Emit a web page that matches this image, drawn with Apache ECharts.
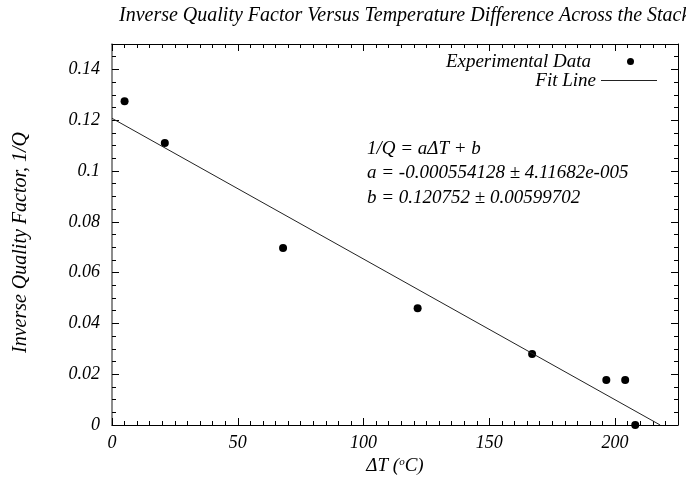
<!DOCTYPE html>
<html>
<head>
<meta charset="utf-8">
<script src="https://cdn.jsdelivr.net/npm/echarts@6/dist/echarts.min.js"></script>
<style>html,body{margin:0;padding:0;background:#fff}#c{width:686px;height:490px}</style>
</head>
<body>
<div id="c"></div>
<script>
// Data
const deltaT = [5, 21, 68, 121.5, 167, 196.5, 204, 208];
const invQ   = [0.1275, 0.111, 0.0697, 0.046, 0.028, 0.0177, 0.0177, 0];
// Fit coefficients (as printed on the chart)
const fitA = -0.000554128;
const fitB = 0.120752;
const annotationLines = [
  '1/Q = a\u0394T + b',
  'a = -0.000554128 \u00B1 4.11682e-005',
  'b = 0.120752 \u00B1 0.00599702'
];
// Axis ranges and tick labels
const xMin = 0, xMax = 225;
const xTickLabels = [0, 50, 100, 150, 200];
const xMinorSplits = 45;   // minor tick every 5
const yMin = 0, yMax = 0.15;
const yTickLabels = [0, 0.02, 0.04, 0.06, 0.08, 0.1, 0.12, 0.14];
const yMinorSplits = 30;   // minor tick every 0.005

const FONT = 'Liberation Serif';
const scatterData = deltaT.map((x, i) => [x, invQ[i]]);
const fitData = [[0, fitB], [-fitB / fitA, 0]];

const chart = echarts.init(document.getElementById('c'));
const tickStyle = {color: '#000', width: 1};
const labelFont = {fontFamily: FONT, fontStyle: 'italic', fontSize: 18, color: '#000'};

function xAx(pos, withLabels, extra) {
  return Object.assign({
    type: 'value', position: pos, min: xMin, max: xMax, interval: xMax - xMin,
    axisLine: {show: true, onZero: false, lineStyle: {color: '#000', width: 1}}, splitLine: {show: false},
    axisTick: {show: true, inside: true, length: 7, lineStyle: tickStyle, customValues: xTickLabels},
    minorTick: {show: true, splitNumber: xMinorSplits, length: 4, lineStyle: tickStyle},
    axisLabel: withLabels ? Object.assign({show: true, margin: 9, customValues: xTickLabels}, labelFont) : {show: false}
  }, extra || {});
}
function yAx(pos, withLabels, extra) {
  return Object.assign({
    type: 'value', position: pos, min: yMin, max: yMax, interval: yMax - yMin,
    axisLine: {show: true, onZero: false, lineStyle: {color: pos === 'left' ? '#666' : '#000', width: pos === 'left' ? 1.5 : 1}},
    splitLine: {show: false},
    axisTick: {show: true, inside: true, length: 7, lineStyle: tickStyle, customValues: yTickLabels},
    minorTick: {show: true, splitNumber: yMinorSplits, length: 4, lineStyle: tickStyle},
    axisLabel: withLabels ? Object.assign({show: true, margin: 12, customValues: yTickLabels,
      formatter: v => String(+(+v).toFixed(3))}, labelFont) : {show: false}
  }, extra || {});
}
const option = {
  backgroundColor: '#fff',
  animation: false,
  title: {
    text: 'Inverse Quality Factor Versus Temperature Difference Across the Stack',
    left: 114, top: 1,
    textStyle: {fontFamily: FONT, fontStyle: 'italic', fontWeight: 'normal', fontSize: 20, color: '#000'}
  },
  grid: {left: 112, right: 8, top: 44, bottom: 65, containLabel: false, outerBoundsMode: 'none',
    show: false},
  legend: [
    {
      data: [{name: 'Experimental Data', icon: 'circle'}],
      right: 47, top: 47, align: 'right', itemWidth: 7, itemHeight: 7, itemGap: 8,
      textStyle: {fontFamily: FONT, fontStyle: 'italic', fontSize: 19, color: '#000', padding: [0, 31, 0, 0]}
    },
    {
      data: [{name: 'Fit Line', icon: 'rect'}],
      right: 24, top: 66, align: 'right', itemWidth: 56, itemHeight: 1.2, itemGap: 8,
      textStyle: {fontFamily: FONT, fontStyle: 'italic', fontSize: 19, color: '#000'}
    }
  ],
  xAxis: [
    xAx('bottom', true, {
      name: '{n|\u0394T (}{s|o}{n|C)}', nameLocation: 'middle', nameGap: 31,
      nameTextStyle: {rich: {
        n: {fontFamily: FONT, fontStyle: 'italic', fontSize: 19, color: '#000'},
        s: {fontFamily: FONT, fontStyle: 'italic', fontSize: 11, color: '#000', verticalAlign: 'top', padding: [0, 0, 8, 0]}
      }}
    }),
    xAx('top', false)
  ],
  yAxis: [
    yAx('left', true, {
      name: 'Inverse Quality Factor, 1/Q', nameLocation: 'middle', nameGap: 81,
      nameTextStyle: {fontFamily: FONT, fontStyle: 'italic', fontSize: 20, color: '#000', padding: [0, 16, 0, 0]}
    }),
    yAx('right', false)
  ],
  graphic: annotationLines.map((t, i) => ({
    type: 'text', left: 367, top: 139 + i * 24.5,
    style: {text: t, fontFamily: FONT, fontStyle: 'italic', fontSize: 19, fill: '#000'}
  })),
  series: [
    {
      name: 'Experimental Data', type: 'scatter', xAxisIndex: 0, yAxisIndex: 0,
      data: scatterData, symbol: 'circle', symbolSize: 8,
      itemStyle: {color: '#000', opacity: 1}
    },
    {
      name: 'Fit Line', type: 'line', xAxisIndex: 0, yAxisIndex: 0,
      data: fitData, showSymbol: false, symbol: 'none',
      lineStyle: {color: '#222', width: 1}, itemStyle: {color: '#222'}
    }
  ]
};
chart.setOption(option);
</script>
</body>
</html>
